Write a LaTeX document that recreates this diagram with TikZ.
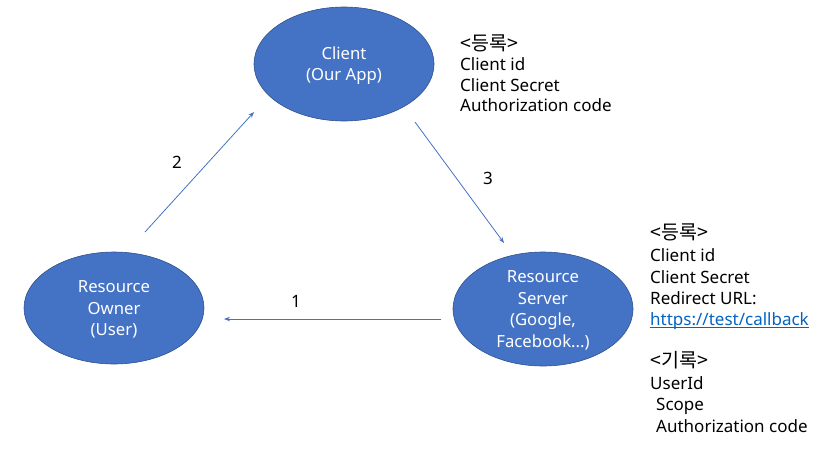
\documentclass[tikz,border=0pt]{standalone}
\usepackage{fontspec}
\setmainfont{Noto Sans}
\newfontfamily\kr[Scale=1.15]{Noto Sans CJK KR}
\usetikzlibrary{shapes.geometric,arrows.meta}
\definecolor{fillblue}{HTML}{4472C4}
\definecolor{edgeblue}{HTML}{2F528F}
\definecolor{linkblue}{HTML}{0563C1}
\begin{document}
\begin{tikzpicture}[x=1pt,y=-1pt,
  ent/.style={ellipse, draw=edgeblue, line width=0.6pt, fill=fillblue, minimum width=180pt, minimum height=114pt, inner sep=0pt},
  lab/.style={text=white, align=center, inner sep=0pt, font=\fontsize{16.7}{21.5}\selectfont},
  flow/.style={draw=fillblue, line width=0.8pt, -{Stealth[length=6pt,width=4.5pt]}},
  num/.style={inner sep=0pt, font=\fontsize{17}{20}\selectfont},
  txt/.style={anchor=base west, inner sep=0pt, font=\fontsize{17}{20}\selectfont}]
\useasboundingbox (0,0) rectangle (831,451);

\node[ent] (client) at (344,64) {};
\node[lab] (clientL) at ([yshift=-1.5pt]client.center) {Client\\(Our App)};
\node[ent, minimum height=112pt] (owner) at (114,308) {};
\node[lab] (ownerL) at ([yshift=-1.5pt]owner.center) {Resource\\Owner\\(User)};
\node[ent] (server) at (543,309) {};
\node[lab] (serverL) at ([yshift=-1.5pt]server.center) {Resource\\Server\\(Google,\\Facebook...)};

\coordinate (s1) at (441,319); \coordinate (e1) at (224,319);
\coordinate (s2) at (145,232); \coordinate (e2) at (254,112);
\coordinate (s3) at (415,122); \coordinate (e3) at (504,243);
\draw[flow] (s1) -- (e1);
\draw[flow] (s2) -- (e2);
\draw[flow] (s3) -- (e3);

\node[num] (n1) at (296,301) {1};
\node[num] (n2) at (177,162) {2};
\node[num] (n3) at (488,178) {3};

\node[txt] (a1) at (460,50) {{\kr <등록>}};
\node[txt] (a2) at (460,70.5) {Client id};
\node[txt] (a3) at (460,91) {Client Secret};
\node[txt] (a4) at (460,111.5) {Authorization code};

\node[txt] (b1) at (650,239.5) {{\kr <등록>}};
\node[txt] (b2) at (650,261.5) {Client id};
\node[txt] (b3) at (650,283) {Client Secret};
\node[txt] (b4) at (650,304.5) {Redirect URL:};
\node[txt, text=linkblue] (url) at (650,325.5) {https://test/callback};
\draw[linkblue, line width=0.8pt] ([yshift=-1.5pt]url.base west) -- ([yshift=-1.5pt]url.base east);
\node[txt] (c1) at (650,367.5) {{\kr <기록>}};
\node[txt] (c2) at (650,389) {UserId};
\node[txt] (c3) at (656,410.5) {Scope};
\node[txt] (c4) at (656,432) {Authorization code};
\end{tikzpicture}
\end{document}
